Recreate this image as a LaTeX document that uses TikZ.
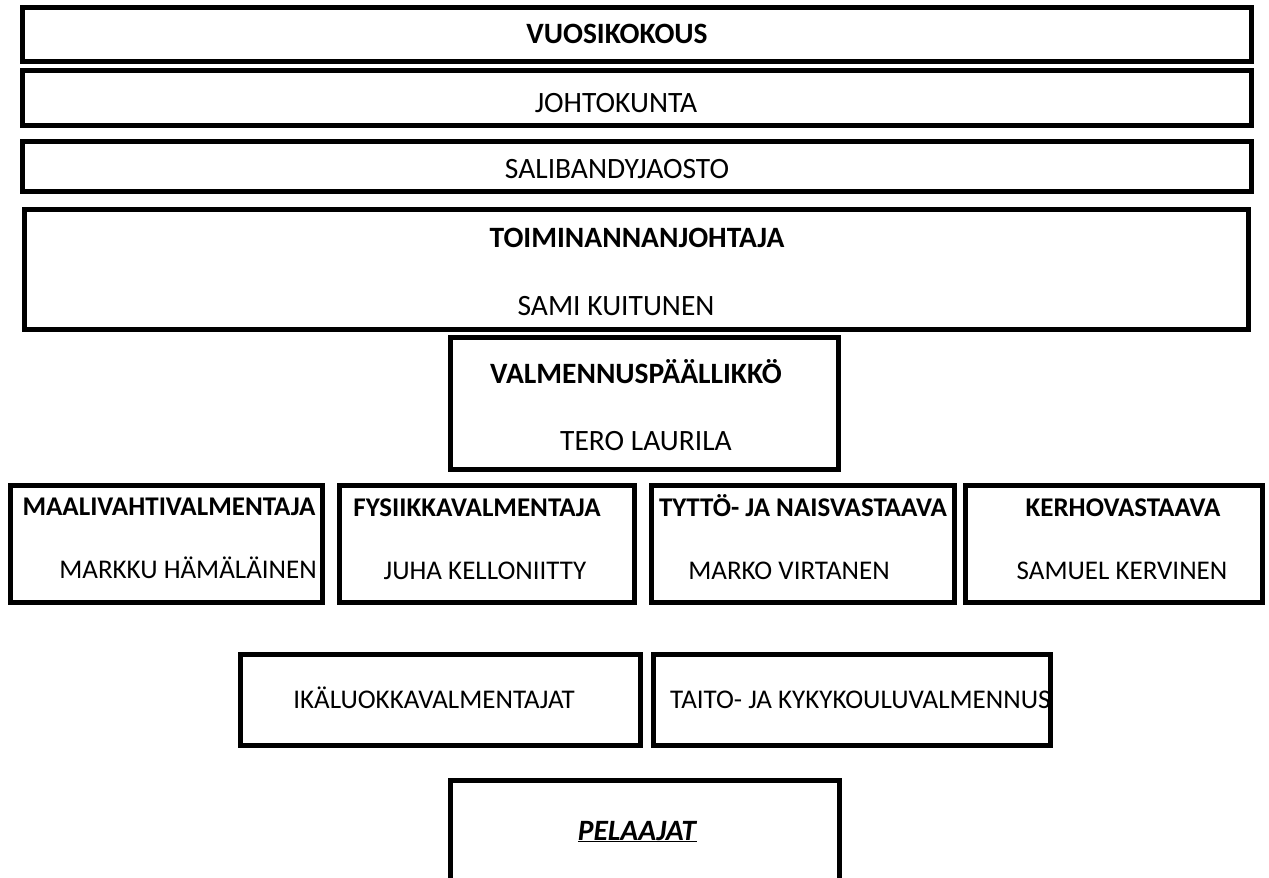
\documentclass[tikz,border=0pt]{standalone}
\usepackage{fontspec}
\setmainfont{Carlito}
\tikzset{
  boxframe/.style={draw=black, line width=5pt, inner sep=0pt},
  toptxt/.style={font=\fontsize{29.5}{34}\selectfont, inner sep=0pt, anchor=base},
  rowtxt/.style={font=\fontsize{27}{32}\selectfont, inner sep=0pt, anchor=base},
}
\newcommand{\orgbox}[5]{%
  \pgfmathsetmacro{\bw}{#4-#2-5}\pgfmathsetmacro{\bh}{#5-#3-5}%
  \node[boxframe, minimum width=\bw pt, minimum height=\bh pt] (#1) at ({(#2+#4)/2},{(#3+#5)/2}) {};}
\begin{document}
\begin{tikzpicture}[x=1pt,y=-1pt]
\useasboundingbox (0,0) rectangle (1269,878);
\clip (0,0) rectangle (1269,878);
\node[toptxt] (tvuo) at (617,43) {\textbf{VUOSIKOKOUS}};
\node[toptxt] (tjoh) at (616,112) {JOHTOKUNTA};
\node[toptxt] (tsal) at (617,178) {SALIBANDYJAOSTO};
\node[toptxt] (ttoi) at (637,247) {\textbf{TOIMINANNANJOHTAJA}};
\node[toptxt] (ttoin) at (616,315) {SAMI KUITUNEN};
\node[toptxt] (tval) at (636,383) {\textbf{VALMENNUSPÄÄLLIKKÖ}};
\node[toptxt] (tvaln) at (646,450) {TERO LAURILA};
\node[rowtxt] (tmaa) at (169,515) {\textbf{MAALIVAHTIVALMENTAJA}};
\node[rowtxt] (tmaan) at (188,578) {MARKKU HÄMÄLÄINEN};
\node[rowtxt] (tfys) at (477,516) {\textbf{FYSIIKKAVALMENTAJA}};
\node[rowtxt] (tfysn) at (485,579) {JUHA KELLONIITTY};
\node[rowtxt] (ttyt) at (803,516) {\textbf{TYTTÖ- JA NAISVASTAAVA}};
\node[rowtxt] (ttytn) at (789,579) {MARKO VIRTANEN};
\node[rowtxt] (tker) at (1123,516) {\textbf{KERHOVASTAAVA}};
\node[rowtxt] (tkern) at (1122,579) {SAMUEL KERVINEN};
\node[rowtxt] (tika) at (434,708) {IKÄLUOKKAVALMENTAJAT};
\node[rowtxt, anchor=base west] (ttai) at (670,708) {TAITO- JA KYKYKOULUVALMENNUS};
\node[toptxt] (tpel) at (637.5,840) {\underline{\textbf{\textit{PELAAJAT}}}};

\orgbox{vuo}{20}{5}{1254}{64}
\orgbox{joh}{20}{68}{1254}{128}
\orgbox{sal}{20}{139}{1254}{194}
\orgbox{toi}{22}{207}{1251}{332}
\orgbox{val}{448}{335}{841}{472}
\orgbox{maa}{8}{483}{325}{605}
\orgbox{fys}{337}{483}{637}{605}
\orgbox{tyt}{649}{483}{957}{605}
\orgbox{ker}{963}{483}{1265}{605}
\orgbox{ika}{238}{652}{643}{748}
\orgbox{tai}{651}{652}{1053}{748}
\orgbox{pel}{448}{778}{842}{905}
\end{tikzpicture}
\end{document}
